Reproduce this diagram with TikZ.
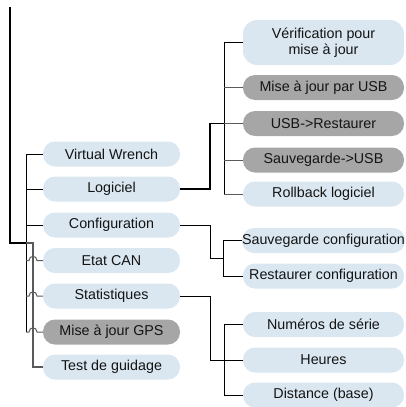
\documentclass[tikz,border=0pt]{standalone}
\usepackage{fontspec}
\setmainfont{Liberation Sans}
\definecolor{lblue}{HTML}{DAE7F1}
\definecolor{mgray}{HTML}{A6A6A6}
\definecolor{lgray}{HTML}{5A5A5A}
\begin{document}
\begin{tikzpicture}[x=1pt,y=-1pt,
  box/.style={rounded corners=12pt, minimum height=25pt, inner sep=0pt, align=center,
              font=\fontsize{14.3}{16.5}\selectfont, text=black!92},
  lb/.style={box, fill=lblue, minimum width=137pt},
  lg/.style={box, fill=mgray, minimum width=137pt},
  rb/.style={box, fill=lblue, minimum width=161pt},
  rg/.style={box, fill=mgray, minimum width=161pt},
  thickline/.style={line width=1.8pt, black},
  thinline/.style={line width=1pt, black},
  grayline/.style={line width=1.2pt, lgray}]
\useasboundingbox (0,0) rectangle (405,407);

% left column
\node[lb] (vw)   at (111.5,154) {Virtual Wrench};
\node[lb] (log)  at (111.5,189) {Logiciel};
\node[lb] (conf) at (111.5,225) {Configuration};
\node[lb] (can)  at (111.5,260.5) {Etat CAN};
\node[lb] (stat) at (111.5,296) {Statistiques};
\node[lg] (gps)  at (111.5,332) {Mise à jour GPS};
\node[lb] (test) at (111.5,367) {Test de guidage};

% software column
\node[rb, minimum height=45pt, rounded corners=14pt] (verif) at (323.5,42.5) {Vérification pour\\mise à jour};
\node[rg] (musb) at (323.5,87.5) {Mise à jour par USB};
\node[rg] (usbr) at (323.5,123.5) {USB->Restaurer};
\node[rg] (susb) at (323.5,160) {Sauvegarde->USB};
\node[rb] (roll) at (323.5,194) {Rollback logiciel};

% configuration column
\node[rb] (sconf) at (323.5,240.5) {Sauvegarde configuration};
\node[rb] (rconf) at (323.5,276) {Restaurer configuration};

% statistics column
\node[rb] (ser)  at (323.5,324.5) {Numéros de série};
\node[rb] (hrs)  at (323.5,360) {Heures};
\node[rb] (dist) at (323.5,395) {Distance (base)};

% junction coordinates
\coordinate (top) at (10,7);
\coordinate (mainend) at (10,243);
\coordinate (lj) at (26,243);
\coordinate (gj) at (33,243);
\coordinate (svt) at (224,42.5);
\coordinate (svb) at (224,194);
\coordinate (sj) at (224,123.5);
\coordinate (cvt) at (223,240.5);
\coordinate (cvb) at (223,276);
\coordinate (cj) at (223,258);
\coordinate (tvt) at (224,324.5);
\coordinate (tvb) at (224,395);
\coordinate (tj) at (224,360);

% main trunk
\draw[thickline] (top) -- (mainend) -- (lj);
% left black branches
\draw[thinline] (26,154) -- (26,332);
\draw[thinline] (26,154) -- (vw.west);
\draw[thinline] (26,189) -- (log.west);
\draw[thinline] (26,225) -- (conf.west);
% gray branch with hops
\draw[grayline] (lj) -- (gj) -- (33,367) -- (test.west);
\foreach \n/\yy in {can/260.5, stat/296, gps/332}{
  \draw[thinline, lgray] (26,\yy) -- (29,\yy) .. controls (29,\yy-5.5) and (37,\yy-5.5) .. (37,\yy) -- (\n.west);
}

% software branch
\draw[thickline] (log.east) -- (210,189) -- (210,123.5) -- (sj);
\draw[thinline] (svt) -- (svb);
\draw[thinline] (svt) -- (verif.west);
\foreach \n in {musb,usbr,susb,roll}{
  \draw[thinline, lgray] (224,0 |- \n.west) -- (\n.west);
}

% configuration branch
\draw[thinline] (conf.east) -- (210,225) -- (210,258) -- (cj);
\draw[thinline] (cvt) -- (cvb);
\draw[thinline] (cvt) -- (sconf.west);
\draw[thinline] (cvb) -- (rconf.west);

% statistics branch
\draw[thinline] (stat.east) -- (210,296) -- (210,360) -- (tj);
\draw[thinline] (tvt) -- (tvb);
\draw[thinline] (tvt) -- (ser.west);
\draw[thinline] (tj) -- (hrs.west);
\draw[thinline] (tvb) -- (dist.west);
\end{tikzpicture}
\end{document}
